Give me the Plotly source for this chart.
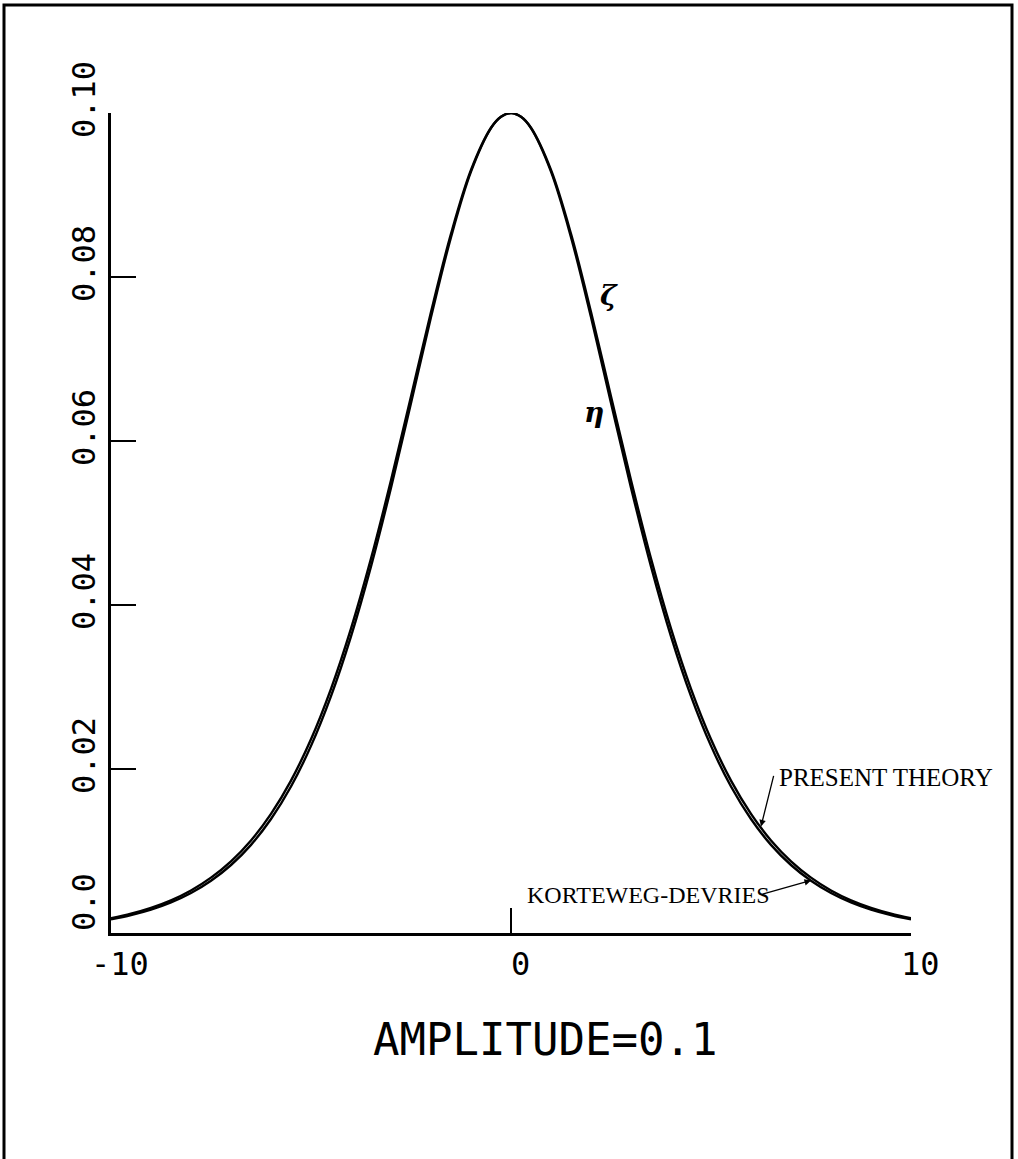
import plotly.graph_objects as go

# Solitary wave profile, amplitude 0.1
x_vals = [-10.0, -9.5, -9.0, -8.5, -8.0, -7.5, -7.0, -6.5, -6.0, -5.5, -5.0,
          -4.5, -4.0, -3.5, -3.0, -2.5, -2.0, -1.5, -1.0, -0.5, -0.25, 0.0,
          0.25, 0.5, 1.0, 1.5, 2.0, 2.5, 3.0, 3.5, 4.0, 4.5, 5.0,
          5.5, 6.0, 6.5, 7.0, 7.5, 8.0, 8.5, 9.0, 9.5, 10.0]

kdv_right = [0.1000, 0.09953, 0.09815, 0.09285, 0.08486, 0.07512, 0.06465,
             0.05431, 0.04471, 0.03618, 0.02889, 0.02282, 0.01787, 0.01390,
             0.01075, 0.00829, 0.00637, 0.00488, 0.00373, 0.00285, 0.00218,
             0.00166]
present_right = [0.1000, 0.09954, 0.09820, 0.09305, 0.08526, 0.07573, 0.06543,
                 0.05520, 0.04565, 0.03712, 0.02978, 0.02363, 0.01859, 0.01453,
                 0.01129, 0.00874, 0.00675, 0.00519, 0.00398, 0.00306, 0.00235,
                 0.00179]

kdv_vals = kdv_right[:0:-1] + kdv_right
present_vals = present_right[:0:-1] + present_right

x_ticks = [-10, 0, 10]
x_tick_text = ["-10", "0", "10"]
y_ticks = [0.0, 0.02, 0.04, 0.06, 0.08, 0.10]
y_tick_text = ["0.0", "0.02", "0.04", "0.06", "0.08", "0.10"]

W, H = 1018, 1159
L, T, PW, PH = 111, 113, 800, 820
B = H - T - PH
R = W - L - PW

def px_x(p):
    return (p - L) / PW

def px_y(p):
    return (T + PH - p) / PH

plot_font = "DejaVu Sans Mono"
type_font = "Liberation Serif"

fig = go.Figure()
fig.add_trace(go.Scatter(x=x_vals, y=present_vals, mode="lines",
                         line=dict(color="black", width=2.4, shape="spline"),
                         name="PRESENT THEORY", showlegend=False))
fig.add_trace(go.Scatter(x=x_vals, y=kdv_vals, mode="lines",
                         line=dict(color="black", width=2.4, shape="spline"),
                         name="KORTEWEG-DEVRIES", showlegend=False))

annotations = []
# y tick labels, rotated
for v, t in zip(y_ticks, y_tick_text):
    annotations.append(dict(x=px_x(84), xref="paper", y=v, yref="y", text=t,
                            textangle=-90, showarrow=False,
                            xanchor="center", yanchor="middle",
                            yshift=31 if t == "0.0" else 13,
                            font=dict(family=plot_font, size=32, color="black")))
# x tick labels
for v, t in zip(x_ticks, x_tick_text):
    annotations.append(dict(x=v, xref="x", y=px_y(964), yref="paper", text=t,
                            showarrow=False, xshift=9,
                            xanchor="center", yanchor="middle",
                            font=dict(family=plot_font, size=32, color="black")))

annotations += [
    dict(x=px_x(545), y=px_y(1039), xref="paper", yref="paper",
         text="AMPLITUDE=0.1", showarrow=False,
         xanchor="center", yanchor="middle",
         font=dict(family=plot_font, size=44, color="black")),
    dict(x=2.45, y=0.0778, xref="x", yref="y", text="<b><i>ζ</i></b>",
         showarrow=False, xanchor="center", yanchor="middle",
         font=dict(family="DejaVu Serif", size=28, color="black")),
    dict(x=2.07, y=0.0635, xref="x", yref="y", text="<b><i>η</i></b>",
         showarrow=False, xanchor="center", yanchor="middle",
         font=dict(family="DejaVu Serif", size=28, color="black")),
    dict(x=6.65, y=0.0190, xref="x", yref="y", text="PRESENT THEORY",
         showarrow=False, xanchor="left", yanchor="middle",
         font=dict(family=type_font, size=25, color="black")),
    dict(x=0.35, y=0.00463, xref="x", yref="y", text="KORTEWEG-DEVRIES",
         showarrow=False, xanchor="left", yanchor="middle",
         font=dict(family=type_font, size=24, color="black")),
    # arrows to the two curves
    dict(x=6.25, y=0.0130, xref="x", yref="y", text="", showarrow=True,
         ax=13, ay=-52, arrowhead=2, arrowsize=1, arrowwidth=1.3,
         arrowcolor="black", standoff=0),
    dict(x=7.5, y=0.0064, xref="x", yref="y", text="", showarrow=True,
         ax=-50, ay=14, arrowhead=2, arrowsize=1, arrowwidth=1.3,
         arrowcolor="black", standoff=0),
]

fig.update_layout(
    width=W, height=H, autosize=False,
    margin=dict(l=L, r=R, t=T, b=B, pad=0),
    paper_bgcolor="white", plot_bgcolor="white",
    annotations=annotations,
    shapes=[dict(type="rect", xref="paper", yref="paper",
                 x0=px_x(4), x1=px_x(1012), y0=px_y(1170), y1=px_y(5),
                 line=dict(color="black", width=3), fillcolor="rgba(0,0,0,0)",
                 layer="below")],
)
fig.update_xaxes(range=[-10, 10], showgrid=False, zeroline=False,
                 showline=True, linecolor="black", linewidth=2.5,
                 ticks="inside", ticklen=25, tickwidth=2, tickcolor="black",
                 tickvals=x_ticks, showticklabels=False, fixedrange=True)
fig.update_yaxes(range=[0, 0.10], showgrid=False, zeroline=False,
                 showline=True, linecolor="black", linewidth=2.5,
                 ticks="inside", ticklen=25, tickwidth=2, tickcolor="black",
                 tickvals=y_ticks, showticklabels=False, fixedrange=True)

fig.write_html("out.html", config={"displayModeBar": False})
